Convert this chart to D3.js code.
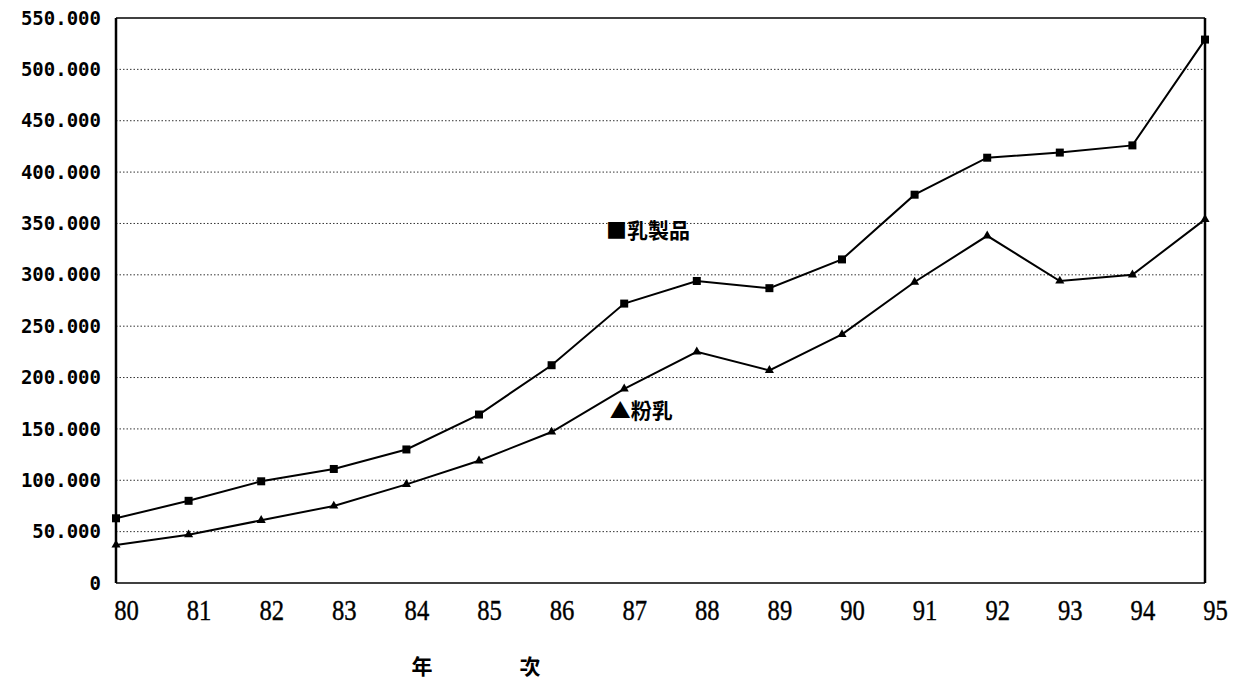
<!DOCTYPE html>
<html>
<head>
<meta charset="utf-8">
<script src="https://cdn.jsdelivr.net/npm/d3@7"></script>
<style>
    body { margin: 0; background: #fff; }
</style>
</head>
<body>
<div id="chart"></div>
<script>
// years (民國 80-95)
const years = [80, 81, 82, 83, 84, 85, 86, 87, 88, 89, 90, 91, 92, 93, 94, 95];
// 乳製品 (square markers)
const dairyProducts = [63000, 80000, 99000, 111000, 130000, 164000, 212000, 272000, 294000, 287000, 315000, 378000, 414000, 419000, 426000, 529000];
// 粉乳 (triangle markers)
const milkPowder = [37000, 47000, 61000, 75000, 96000, 119000, 147000, 189000, 225000, 207000, 242000, 293000, 338000, 294000, 300000, 354000];
const yTicks = [0, 50000, 100000, 150000, 200000, 250000, 300000, 350000, 400000, 450000, 500000, 550000];
// in-plot labels, placed in data coordinates
const seriesLabels = [
    { text: "乳製品", mark: "■", year: 86.75, value: 336000 },
    { text: "粉乳", mark: "▲", year: 86.8, value: 161000 }
];
const xTitle = "年　　　次";

const width = 1238, height = 686;
const margin = { top: 18, right: 33, bottom: 103, left: 116 };

const svg = d3.select("#chart").append("svg")
    .attr("width", width)
    .attr("height", height);

const x = d3.scaleLinear()
    .domain([80, 95])
    .range([margin.left, width - margin.right]);

const y = d3.scaleLinear()
    .domain([0, 550000])
    .range([height - margin.bottom, margin.top]);

const fmt = v => v === 0 ? "0" : d3.format(",.0f")(v / 1000).replace(",", ".") + ".000";

// dotted gridlines
svg.append("g")
    .selectAll("line")
    .data(yTicks.filter(d => d > 0 && d < 550000))
    .enter().append("line")
    .attr("x1", x(80))
    .attr("x2", x(95))
    .attr("y1", d => y(d))
    .attr("y2", d => y(d))
    .attr("stroke", "#333")
    .attr("stroke-width", 1)
    .attr("stroke-dasharray", "1.5,2");

// frame
const frame = svg.append("g").attr("fill", "none").attr("stroke", "#000");
frame.append("line")   // top
    .attr("x1", x(80)).attr("x2", x(95))
    .attr("y1", y(550000)).attr("y2", y(550000))
    .attr("stroke-width", 1.5);
frame.append("line")   // bottom
    .attr("x1", x(80)).attr("x2", x(95))
    .attr("y1", y(0)).attr("y2", y(0))
    .attr("stroke-width", 1.5);
frame.append("line")   // left
    .attr("x1", x(80)).attr("x2", x(80))
    .attr("y1", y(0)).attr("y2", y(550000))
    .attr("stroke-width", 2.5);
frame.append("line")   // right
    .attr("x1", x(95)).attr("x2", x(95))
    .attr("y1", y(0)).attr("y2", y(550000))
    .attr("stroke-width", 2.5);

// y axis labels
const yAxis = d3.axisLeft(y)
    .tickValues(yTicks)
    .tickFormat(fmt)
    .tickSize(0)
    .tickPadding(15);
svg.append("g")
    .attr("transform", `translate(${x(80)},0)`)
    .call(yAxis)
    .call(g => g.select(".domain").remove())
    .call(g => g.selectAll("text")
        .attr("font-family", "'DejaVu Sans Mono', monospace")
        .attr("font-weight", "bold")
        .attr("font-size", 19)
        .attr("fill", "#000"));

// x axis labels
const xAxis = d3.axisBottom(x)
    .tickValues(years)
    .tickFormat(d => d)
    .tickSize(0)
    .tickPadding(16);
svg.append("g")
    .attr("transform", `translate(0,${y(0)})`)
    .call(xAxis)
    .call(g => g.select(".domain").remove())
    .call(g => g.selectAll("text")
        .attr("font-family", "'Liberation Serif', serif")
        .attr("font-size", 29)
        .attr("fill", "#000")
        .attr("stroke", "#000")
        .attr("stroke-width", 0.4)
        .attr("transform", "translate(10,0) scale(0.85,1)"));

// x title
svg.append("text")
    .attr("x", (x(84) + x(86)) / 2)
    .attr("y", height - 12)
    .attr("text-anchor", "middle")
    .attr("font-family", "'Noto Sans CJK TC', sans-serif")
    .attr("font-size", 21)
    .attr("letter-spacing", 6)
    .attr("font-weight", "bold")
    .text(xTitle);

// lines
const line = d3.line()
    .x((d, i) => x(years[i]))
    .y(d => y(d));

svg.append("path")
    .datum(dairyProducts)
    .attr("fill", "none")
    .attr("stroke", "#000")
    .attr("stroke-width", 2)
    .attr("d", line);

svg.append("path")
    .datum(milkPowder)
    .attr("fill", "none")
    .attr("stroke", "#000")
    .attr("stroke-width", 2)
    .attr("d", line);

// markers
svg.append("g")
    .selectAll("rect")
    .data(dairyProducts)
    .enter().append("rect")
    .attr("x", (d, i) => x(years[i]) - 4)
    .attr("y", d => y(d) - 4)
    .attr("width", 8)
    .attr("height", 8)
    .attr("fill", "#000");

const tri = d3.symbol().type(d3.symbolTriangle).size(36);
svg.append("g")
    .selectAll("path")
    .data(milkPowder)
    .enter().append("path")
    .attr("d", tri)
    .attr("transform", (d, i) => `translate(${x(years[i])},${y(d)})`)
    .attr("fill", "#000");

// in-plot series labels
const lbl = svg.append("g")
    .selectAll("text")
    .data(seriesLabels)
    .enter().append("text")
    .attr("x", d => x(d.year))
    .attr("y", d => y(d.value))
    .attr("font-family", "'Noto Sans CJK TC', sans-serif")
    .attr("font-size", 21)
    .attr("font-weight", "bold")
    .attr("fill", "#000");
lbl.append("tspan").text(d => d.mark);
lbl.append("tspan").text(d => d.text);
</script>
</body>
</html>
